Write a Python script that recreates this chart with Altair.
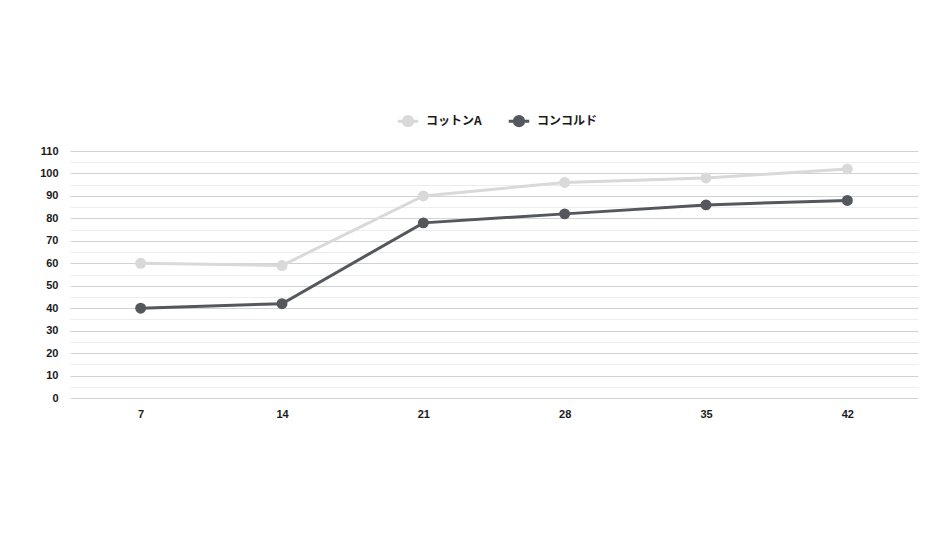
import altair as alt
import pandas as pd

days = [7, 14, 21, 28, 35, 42]
series_names = ["コットンA", "コンコルド"]
cotton_a = [60, 59, 90, 96, 98, 102]
concord = [40, 42, 78, 82, 86, 88]
y_ticks = list(range(0, 115, 5))
colors = ["#d9d9d9", "#54585d"]

rows = []
for d, v in zip(days, cotton_a):
    rows.append({"day": str(d), "value": v, "series": series_names[0]})
for d, v in zip(days, concord):
    rows.append({"day": str(d), "value": v, "series": series_names[1]})
df = pd.DataFrame(rows)

x = alt.X("day:N", sort=[str(d) for d in days], title=None,
          scale=alt.Scale(paddingInner=0, paddingOuter=0),
          axis=alt.Axis(labelAngle=0, ticks=False, domain=False, grid=False,
                        labelPadding=10, labelFontSize=11, labelFontWeight="bold",
                        labelColor="#1a1a1a", labelFont="Liberation Sans"))
y = alt.Y("value:Q", title=None,
          scale=alt.Scale(domain=[0, 110], nice=False),
          axis=alt.Axis(values=y_ticks, ticks=False, domain=False,
                        labelExpr="datum.value % 10 === 0 ? datum.label : ''",
                        labelPadding=12, labelFontSize=11, labelFontWeight="bold",
                        labelColor="#1a1a1a", labelFont="Liberation Sans",
                        gridColor={"condition": {"test": "datum.value % 10 === 0", "value": "#d2d2d2"},
                                   "value": "#ededed"},
                        gridWidth=1))
color = alt.Color("series:N", scale=alt.Scale(domain=series_names, range=colors), title=None,
                  legend=alt.Legend(orient="none", direction="horizontal", legendX=326, legendY=-42,
                                    symbolType="M-1,0L1,0M-0.45,0a0.45,0.45 0 1,0 0.9,0a0.45,0.45 0 1,0 -0.9,0",
                                    symbolSize=420, symbolStrokeWidth=3,
                                    labelFont="Noto Sans CJK JP", labelFontSize=12, labelFontWeight="bold",
                                    labelColor="#1a1a1a", columnPadding=20, labelOffset=6))

base = alt.Chart(df).encode(x=x, y=y, color=color)
lines = base.mark_line(strokeWidth=3)
points = base.mark_point(filled=True, size=120, opacity=1)

chart = alt.layer(lines, points).properties(
    width=848, height=247,
    background="white",
    autosize=alt.AutoSizeParams(type="none"),
    padding={"left": 62, "top": 143, "right": 14, "bottom": 130},
).configure_view(stroke=None, strokeWidth=0)

chart.save("out.html", embed_options={"renderer": "svg", "actions": False})
